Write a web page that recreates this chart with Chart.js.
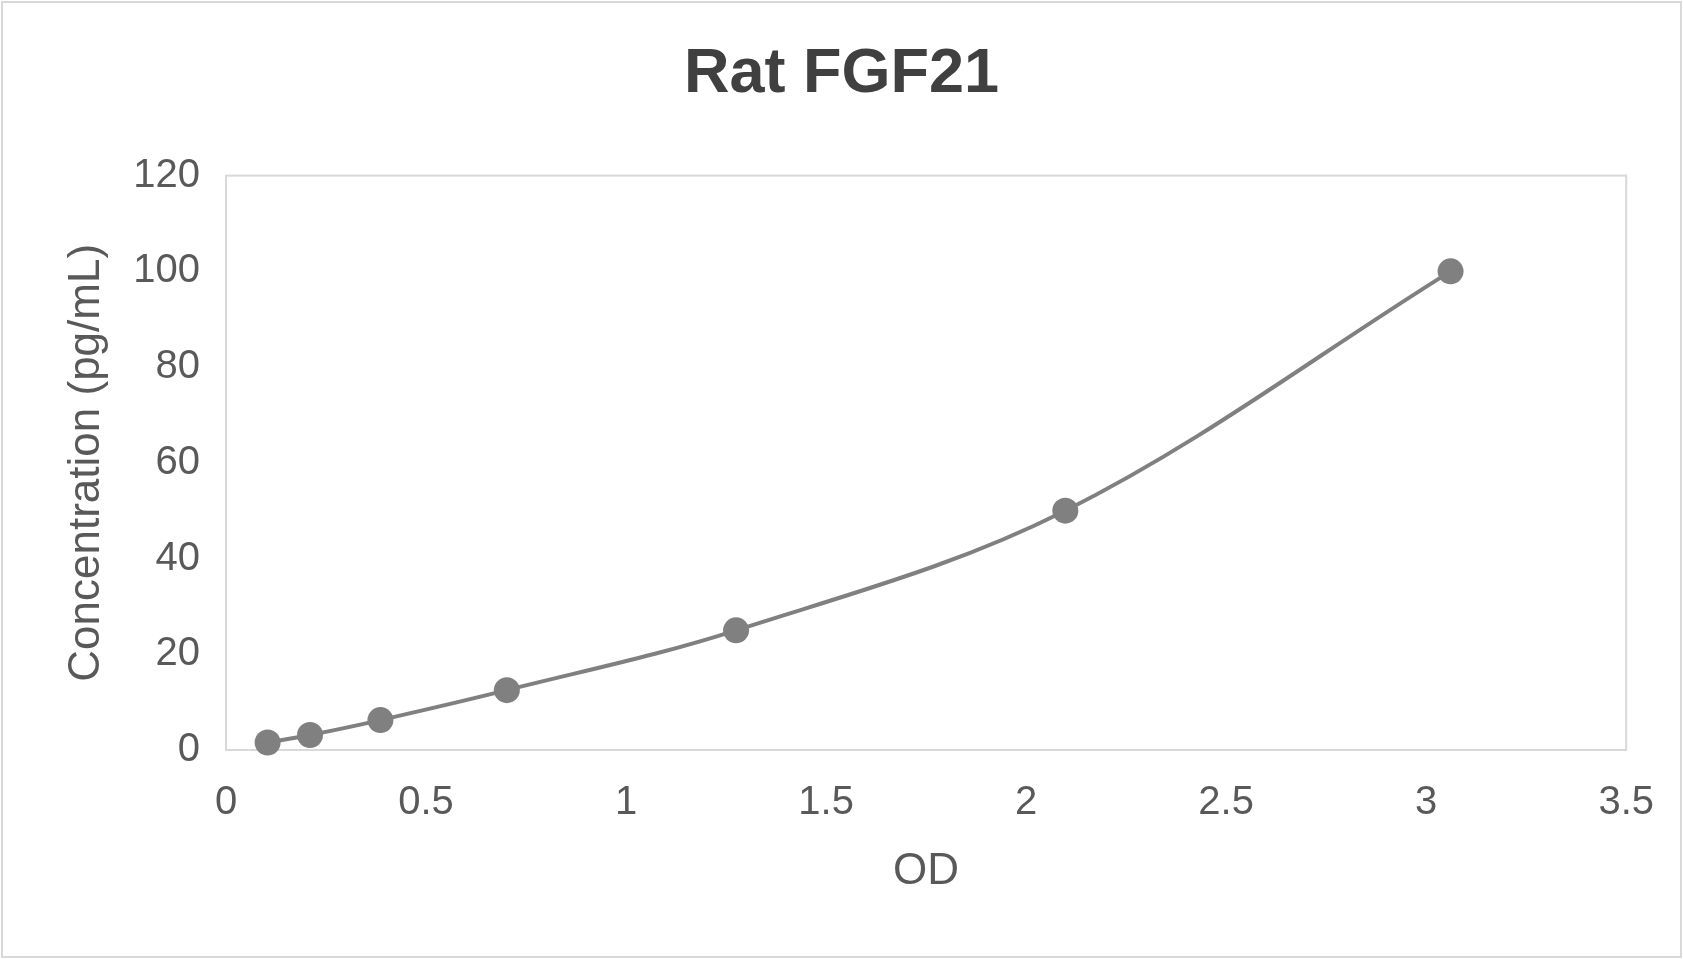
<!DOCTYPE html>
<html>
<head>
<meta charset="utf-8">
<title>Rat FGF21</title>
<script src="https://cdn.jsdelivr.net/npm/chart.js@4.4.1/dist/chart.umd.min.js"></script>
<style>
    html, body { margin: 0; padding: 0; background: #fff; }
    #wrap { position: relative; width: 1683px; height: 959px; }
    #frame {
        position: absolute; left: 1px; top: 1px; width: 1677px; height: 953px;
        border: 2px solid #d9d9d9; pointer-events: none;
    }
</style>
</head>
<body>
<div id="wrap">
    <canvas id="curveChart" width="1683" height="959"></canvas>
    <div id="frame"></div>
</div>
<script>
// standard curve readings
const odValues = [0.104, 0.21, 0.386, 0.702, 1.275, 2.098, 3.061];
const concValues = [1.5625, 3.125, 6.25, 12.5, 25, 50, 100];

const xMin = 0, xMax = 3.5, xStep = 0.5;
const yMin = 0, yMax = 120, yStep = 20;

const fontFamily = '"Liberation Sans", Arial, sans-serif';
const textGrey = '#595959';

// box around the plot area
const plotFrame = {
    id: 'plotFrame',
    beforeDatasetsDraw(chart) {
        const { ctx, chartArea: a } = chart;
        ctx.save();
        ctx.strokeStyle = '#d9d9d9';
        ctx.lineWidth = 2;
        ctx.strokeRect(a.left, a.top, a.right - a.left, a.bottom - a.top);
        ctx.restore();
    }
};

const points = odValues.map((x, i) => ({ x: x, y: concValues[i] }));

const ctx = document.getElementById('curveChart').getContext('2d');
const curveChart = new Chart(ctx, {
    type: 'scatter',
    data: {
        datasets: [
            {
                label: 'Rat FGF21',
                data: points,
                showLine: true,
                tension: 0.35,
                borderColor: '#808080',
                borderWidth: 4,
                pointRadius: 13,
                pointBackgroundColor: '#808080',
                pointBorderColor: '#808080',
                pointBorderWidth: 0,
                clip: false,
            }
        ]
    },
    options: {
        responsive: false,
        animation: false,
        events: [],
        layout: {
            padding: { left: 53, top: 0, right: 53, bottom: 0 }
        },
        scales: {
            x: {
                type: 'linear',
                min: xMin,
                max: xMax,
                grid: { display: false, drawTicks: false },
                border: { display: false },
                ticks: {
                    stepSize: xStep,
                    autoSkip: false,
                    maxRotation: 0,
                    padding: 29,
                    color: textGrey,
                    font: { family: fontFamily, size: 40 },
                    callback: (v) => String(Math.round(v * 10) / 10),
                },
                title: {
                    display: true,
                    text: 'OD',
                    color: textGrey,
                    padding: { top: 0, bottom: 61 },
                    font: { family: fontFamily, size: 44 },
                },
                afterFit: (scale) => { scale.height = 209; }
            },
            y: {
                min: yMin,
                max: yMax,
                grid: { display: false, drawTicks: false },
                border: { display: false },
                ticks: {
                    stepSize: yStep,
                    padding: 26,
                    color: textGrey,
                    font: { family: fontFamily, size: 40 },
                },
                title: {
                    display: true,
                    text: 'Concentration (pg/mL)',
                    color: textGrey,
                    padding: { top: 7, bottom: 0 },
                    font: { family: fontFamily, size: 44 },
                },
                afterFit: (scale) => { scale.width = 173; }
            }
        },
        plugins: {
            legend: { display: false },
            tooltip: { enabled: false },
            title: {
                display: true,
                text: 'Rat FGF21',
                color: '#404040',
                padding: { top: 37, bottom: 63 },
                font: { family: fontFamily, size: 63, weight: 'bold' },
            }
        }
    },
    plugins: [plotFrame]
});
</script>
</body>
</html>
